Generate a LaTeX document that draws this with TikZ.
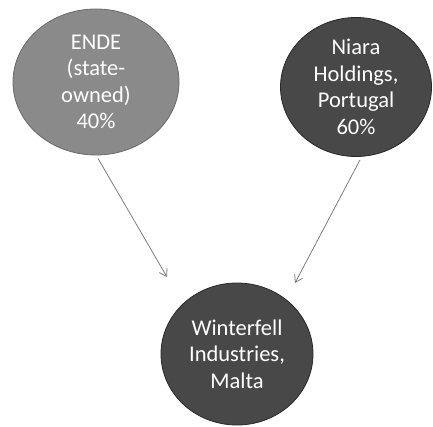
\documentclass[tikz,border=0pt]{standalone}
\usepackage{fontspec}
\setmainfont{Carlito}
\usetikzlibrary{shapes.geometric,arrows.meta}
\definecolor{lightball}{RGB}{138,138,138}
\definecolor{lightedge}{RGB}{105,105,105}
\definecolor{darkball}{RGB}{72,72,72}
\definecolor{darkedge}{RGB}{40,40,40}
\definecolor{arrowgray}{RGB}{125,125,125}
\tikzset{
  ball/.style={ellipse, draw, line width=0.8pt, text=white, align=center,
    font=\fontsize{22.5}{26.5}\selectfont, inner sep=0pt},
  lball/.style={ball, fill=lightball, draw=lightedge},
  dball/.style={ball, fill=darkball, draw=darkedge},
  link/.style={draw=arrowgray, line width=0.8pt, -{Straight Barb[length=7pt,width=9pt]}}
}
\begin{document}
\begin{tikzpicture}[x=1pt,y=1pt]
\useasboundingbox (0,0) rectangle (433,426);
\fill[white] (0,0) rectangle (433,426);
\node[lball, minimum width=166pt, minimum height=146pt] (ende) at (96,344) {ENDE\\(state-\\owned)\\40\%};
\node[dball, minimum width=151pt, minimum height=139pt] (niara) at (356,339) {Niara\\Holdings,\\Portugal\\60\%};
\node[dball, minimum width=152pt, minimum height=142pt] (winter) at (237,72) {Winterfell\\Industries,\\Malta};
\coordinate (le) at (167,149);
\coordinate (re) at (295,143);
\draw[link] (ende.south) ++(2,-3) coordinate (ls) -- (le);
\draw[link] (niara.south) ++(4,-3) coordinate (rs) -- (re);
\end{tikzpicture}
\end{document}
